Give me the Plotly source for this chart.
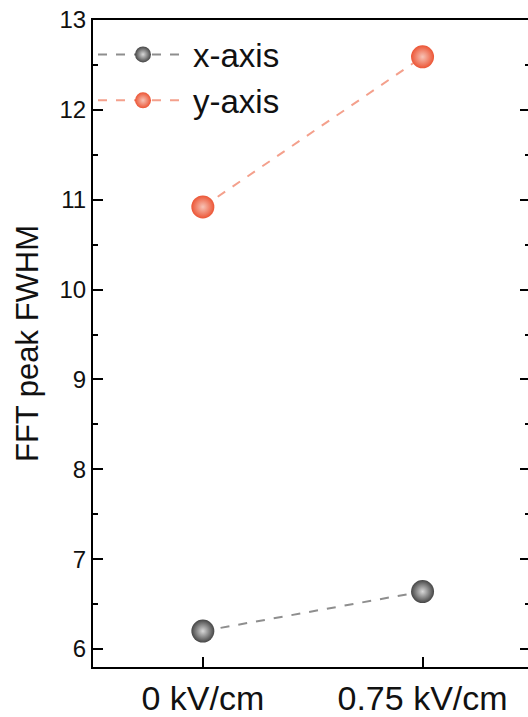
import plotly.graph_objects as go

categories = ["0 kV/cm", "0.75 kV/cm"]
x_axis_fwhm = [6.2, 6.64]
y_axis_fwhm = [10.92, 12.59]
series_names = ["x-axis", "y-axis"]
y_ticks = [6, 7, 8, 9, 10, 11, 12, 13]

FONT = "Arial, 'Liberation Sans', sans-serif"

fig = go.Figure()
fig.add_trace(go.Scatter(
    x=[0, 1], y=x_axis_fwhm, name=series_names[0], mode="lines+markers",
    line=dict(color="#8e8e8e", width=2, dash="dash"),
    marker=dict(size=23, color="#454545",
                gradient=dict(type="radial", color="#d8d8d8"),
                line=dict(width=0)),
))
fig.add_trace(go.Scatter(
    x=[0, 1], y=y_axis_fwhm, name=series_names[1], mode="lines+markers",
    line=dict(color="#f4a08c", width=2, dash="dash"),
    marker=dict(size=23, color="#ec5535",
                gradient=dict(type="radial", color="#f7c3b6"),
                line=dict(width=0)),
))
# right-side inward ticks (mirror without visible line)
fig.add_trace(go.Scatter(x=[0], y=[6], yaxis="y2", showlegend=False,
                         mode="markers", marker=dict(opacity=0), hoverinfo="skip"))

fig.update_layout(
    width=528, height=717,
    margin=dict(l=93, r=0, t=20, b=50),
    paper_bgcolor="white", plot_bgcolor="white",
    font=dict(family=FONT, color="#111111"),
    showlegend=True,
    legend=dict(x=0.0, y=0.99, xanchor="left", yanchor="top",
                font=dict(size=33, family=FONT, color="#111111"),
                bgcolor="rgba(0,0,0,0)", itemwidth=90, tracegroupgap=0),
    xaxis=dict(range=[-0.5, 1.48], tickvals=[0, 1], ticktext=categories,
               showline=True, linecolor="#000000", linewidth=2, mirror=True,
               ticks="inside", ticklen=10, tickwidth=2, tickcolor="#000000",
               tickfont=dict(size=34, family=FONT, color="#111111"),
               showgrid=False, zeroline=False, fixedrange=True),
    yaxis=dict(range=[5.8, 13], tickvals=y_ticks,
               showline=True, linecolor="#000000", linewidth=2, mirror=False,
               ticks="inside", ticklen=10, tickwidth=2, tickcolor="#000000",
               minor=dict(dtick=0.5, ticks="inside", ticklen=5, tickwidth=2, tickcolor="#000000"),
               tickfont=dict(size=24, family=FONT, color="#111111"),
               title=dict(text="FFT peak FWHM", font=dict(size=31, family=FONT, color="#111111"), standoff=12),
               showgrid=False, zeroline=False, fixedrange=True),
    yaxis2=dict(range=[5.8, 13], overlaying="y", side="right", tickvals=y_ticks,
                showline=False, ticks="inside", ticklen=8, tickwidth=2, tickcolor="#000000",
                minor=dict(dtick=0.5, ticks="inside", ticklen=3, tickwidth=2, tickcolor="#000000"),
                showticklabels=False, showgrid=False, zeroline=False, fixedrange=True),
)

fig.write_html("out.html")
